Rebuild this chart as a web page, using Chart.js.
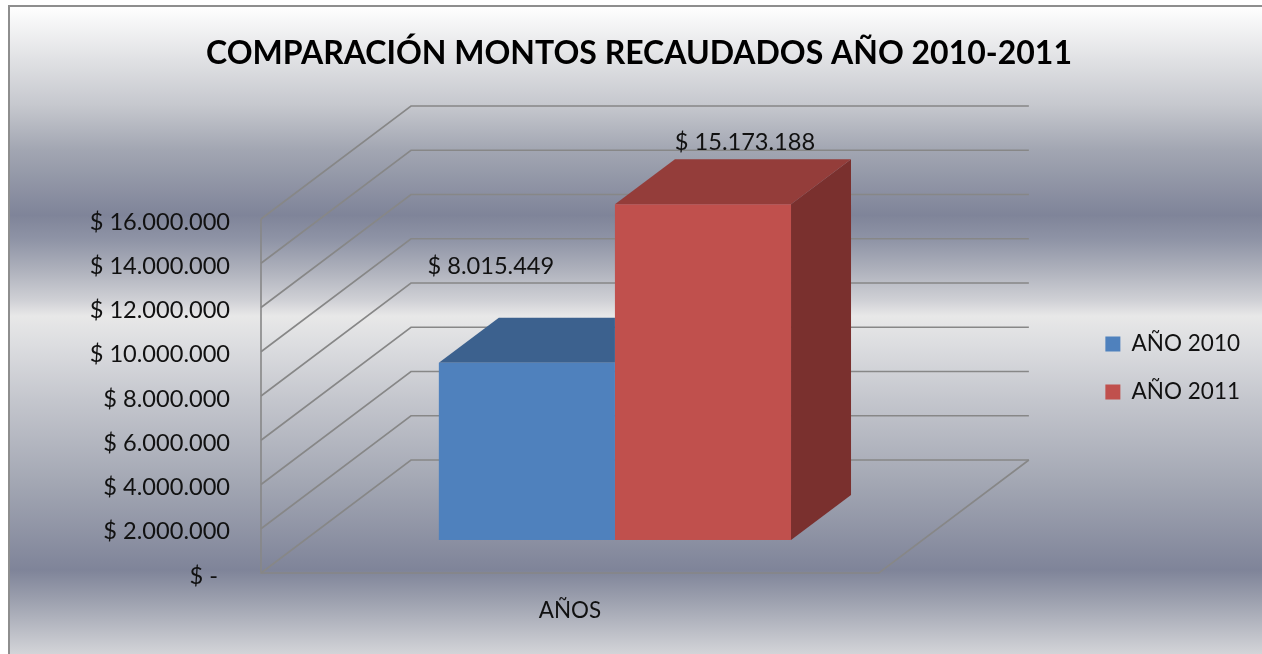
<!DOCTYPE html>
<html>
<head>
<meta charset="utf-8">
<style>
  html, body { margin: 0; padding: 0; background: #fff; }
  canvas { display: block; }
</style>
<script src="https://cdn.jsdelivr.net/npm/chart.js@4"></script>
</head>
<body>
<canvas id="chart" width="1262" height="654"></canvas>
<script>
const categories = ['AÑOS'];
const seriesNames = ['AÑO 2010', 'AÑO 2011'];
const values2010 = [8015449];
const values2011 = [15173188];
const yMax = 16000000;
const yStep = 2000000;

const frontColors = ['#4f81bd', '#c0504d'];
const topColors = ['#3c618e', '#943d3a'];
const sideColors = ['#2f4d71', '#7a302e'];

// 3D look: wall depth, how far bars sit from the front, and bar depth
const wallDepth = { x: 150, y: -113 };
const barInset = { x: 45, y: -33 };
const barDepth = { x: 60, y: -45 };
// data labels were dragged by hand in the original
const labelShift = [{ x: -36, y: -96 }, { x: 42, y: -62 }];

const fontName = 'Lato, sans-serif';

function money(v) {
    if (v === 0) return '$ -\u00a0\u00a0';
    return '$ ' + v.toLocaleString('de-DE');
}

function poly(ctx, pts, fill) {
    ctx.beginPath();
    pts.forEach((p, i) => i ? ctx.lineTo(p[0], p[1]) : ctx.moveTo(p[0], p[1]));
    ctx.closePath();
    ctx.fillStyle = fill;
    ctx.fill();
}

// Silver banded background with the border of the chart frame
const backgroundPlugin = {
    id: 'silverBackground',
    beforeDraw(chart) {
        const { ctx, width, height } = chart;
        const g = ctx.createLinearGradient(0, 6, 0, height);
        const stops = [
            [6, '#ffffff'], [60, '#e0e1e4'], [105, '#c6c8ce'], [150, '#a2a6b2'], [215, '#7f8499'],
            [240, '#8f94a6'], [270, '#aeb1bc'], [300, '#cfd0d5'], [316, '#e8e8e8'], [345, '#dcdde0'],
            [400, '#c4c6cd'], [480, '#a4a8b4'], [570, '#7f8499'], [600, '#9ca0ae'], [654, '#d3d4d8']
        ];
        stops.forEach(s => g.addColorStop((s[0] - 6) / (height - 6), s[1]));
        ctx.save();
        ctx.fillStyle = g;
        ctx.fillRect(9, 6, width - 9, height - 6);
        ctx.strokeStyle = '#8e8e8e';
        ctx.lineWidth = 2;
        ctx.beginPath();
        ctx.moveTo(9, height);
        ctx.lineTo(9, 6);
        ctx.lineTo(width, 6);
        ctx.stroke();
        ctx.restore();
    }
};

// Keeps the legend away from the back wall, which runs past the plot area
const wallSpacer = {
    id: 'wallSpacer',
    beforeInit(chart) {
        Chart.layouts.addBox(chart, {
            position: 'right',
            weight: 0,
            fullSize: false,
            options: {},
            isHorizontal() { return false; },
            update() { this.width = 201; this.height = 0; },
            draw() {}
        });
    },
    afterLayout(chart) {
        // legend sits lower than centre in the original
        chart.legend.top += 41;
        chart.legend.bottom += 41;
        // nudge y tick labels down, Lato sits higher than the original font
        const axis = chart.scales.y;
        const drawLabels = axis.drawLabels;
        axis.drawLabels = function (area) {
            chart.ctx.save();
            chart.ctx.translate(0, 3);
            drawLabels.call(this, area);
            chart.ctx.restore();
        };
    }
};

const box3d = {
    id: 'box3d',
    // side wall, back wall and floor lines from the y scale ticks
    beforeDatasetsDraw(chart) {
        const { ctx, chartArea, scales } = chart;
        const { left, right } = chartArea;
        const y0 = scales.y.getPixelForValue(0);
        const yTop = scales.y.getPixelForValue(yMax);
        ctx.save();
        ctx.strokeStyle = '#878787';
        ctx.lineWidth = 1.6;
        scales.y.ticks.forEach(t => {
            const y = scales.y.getPixelForValue(t.value);
            ctx.beginPath();
            ctx.moveTo(left, y);
            ctx.lineTo(left + wallDepth.x, y + wallDepth.y);
            ctx.lineTo(right + wallDepth.x, y + wallDepth.y);
            ctx.stroke();
        });
        ctx.beginPath();
        ctx.moveTo(left, yTop);
        ctx.lineTo(left, y0);
        ctx.lineTo(right, y0);
        ctx.lineTo(right + wallDepth.x, y0 + wallDepth.y);
        ctx.stroke();
        ctx.restore();
    },
    // Chart.js paints the last dataset first, so the 2010 bar comes after 2011:
    // its extruded faces are cut at its right edge to stay behind the red front
    beforeDatasetDraw(chart, args) {
        const { ctx, height } = chart;
        const i = args.index;
        const isLast = i === chart.data.datasets.length - 1;
        ctx.save();
        ctx.translate(barInset.x, barInset.y);
        args.meta.data.forEach(bar => {
            const p = bar.getProps(['x', 'y', 'base', 'width'], true);
            const l = p.x - p.width / 2;
            const r = p.x + p.width / 2;
            const dx = barDepth.x;
            const dy = barDepth.y;
            ctx.save();
            if (!isLast) {
                ctx.beginPath();
                ctx.rect(l, 0, p.width, height);
                ctx.clip();
            }
            poly(ctx, [[r, p.y], [r + dx, p.y + dy], [r + dx, p.base + dy], [r, p.base]], sideColors[i]);
            poly(ctx, [[l, p.y], [l + dx, p.y + dy], [r + dx, p.y + dy], [r, p.y]], topColors[i]);
            ctx.restore();
        });
    },
    afterDatasetDraw(chart) {
        chart.ctx.restore();
    },
    afterDatasetsDraw(chart) {
        const { ctx, data } = chart;
        ctx.save();
        ctx.font = '23.6px ' + fontName;
        ctx.fillStyle = '#111';
        ctx.textAlign = 'center';
        ctx.textBaseline = 'middle';
        data.datasets.forEach((ds, i) => {
            chart.getDatasetMeta(i).data.forEach((bar, j) => {
                const p = bar.getProps(['x', 'y'], true);
                ctx.fillText(money(ds.data[j]),
                    p.x + barInset.x + labelShift[i].x,
                    p.y + barInset.y + labelShift[i].y);
            });
        });
        ctx.restore();
    }
};

new Chart(document.getElementById('chart'), {
    type: 'bar',
    data: {
        labels: categories,
        datasets: [
            { label: seriesNames[0], data: values2010, backgroundColor: frontColors[0] },
            { label: seriesNames[1], data: values2011, backgroundColor: frontColors[1] }
        ]
    },
    plugins: [backgroundPlugin, wallSpacer, box3d],
    options: {
        responsive: false,
        animation: false,
        clip: false,
        categoryPercentage: 0.57,
        barPercentage: 1,
        layout: { padding: { left: 28, right: 12, top: 0, bottom: 0 } },
        plugins: {
            title: {
                display: true,
                text: 'COMPARACIÓN MONTOS RECAUDADOS AÑO 2010-2011',
                color: '#000',
                font: { family: fontName, size: 32, weight: 'bold' },
                padding: { top: 34, bottom: 146.6 }
            },
            legend: {
                position: 'right',
                labels: {
                    color: '#111',
                    font: { family: fontName, size: 22.5 },
                    boxWidth: 15,
                    boxHeight: 15,
                    padding: 25.5
                }
            },
            tooltip: { enabled: false }
        },
        scales: {
            x: {
                grid: { display: false },
                border: { display: false },
                ticks: { color: '#111', font: { family: fontName, size: 22.4 }, padding: 16 },
                afterFit(axis) { axis.height = 81; }
            },
            y: {
                min: 0,
                max: yMax,
                grid: { display: false },
                border: { display: false },
                ticks: {
                    stepSize: yStep,
                    color: '#111',
                    padding: 23,
                    font: { family: fontName, size: 23.6 },
                    callback: v => money(v)
                },
                afterFit(axis) { axis.width = 233; }
            }
        }
    }
});
</script>
</body>
</html>
